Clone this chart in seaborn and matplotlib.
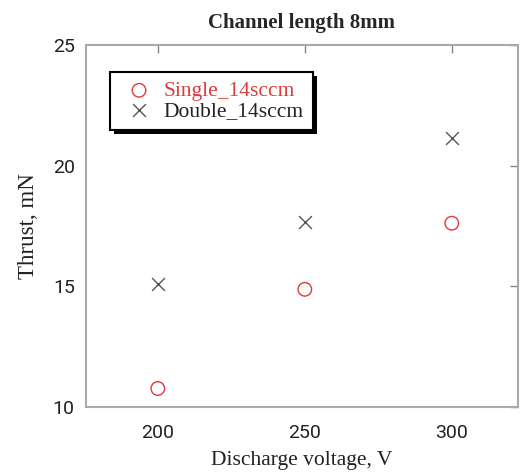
import matplotlib
matplotlib.use("Agg")
import matplotlib.pyplot as plt
import matplotlib.patheffects as pe
import seaborn as sns
import pandas as pd

voltage = [200, 250, 300]
single_14sccm = [10.77, 14.88, 17.62]
double_14sccm = [15.11, 17.66, 21.16]
x_ticks = [200, 250, 300]
y_ticks = [10, 15, 20, 25]
title = "Channel length 8mm"
xlabel = "Discharge voltage, V"
ylabel = "Thrust, mN"
series_names = ["Single_14sccm", "Double_14sccm"]

sns.set_style("white")
plt.rcParams['font.family'] = ['Liberation Sans Narrow', 'Roboto', 'DejaVu Sans']

fig = plt.figure(figsize=(5.2, 4.75), dpi=100)
ax = fig.add_axes([0.165, 0.143, 0.831, 0.762])

df_s = pd.DataFrame({"V": voltage, "T": single_14sccm})
df_d = pd.DataFrame({"V": voltage, "T": double_14sccm})

red = "#e03a3a"
gray = "#555555"
sns.scatterplot(data=df_s, x="V", y="T", marker="o", s=95, facecolors="none",
                edgecolors=red, linewidths=1.0, ax=ax, label=series_names[0], zorder=3)
sns.scatterplot(data=df_d, x="V", y="T", marker="x", s=85, color=gray,
                linewidths=1.0, ax=ax, label=series_names[1], zorder=3)

ax.set_xlim(175.5, 322.5)
ax.set_ylim(10, 25)
ax.set_xticks(x_ticks)
ax.set_yticks(y_ticks)
ax.tick_params(direction="in", length=6, width=1, color="#888888",
               labelsize=14, labelcolor="#222222", top=True, right=True,
               labeltop=False, labelright=False, pad=8)
ax.tick_params(axis="x", pad=12)
for sp in ax.spines.values():
    sp.set_color("#aaaaaa")
    sp.set_linewidth(1.5)
    sp.set_visible(True)

ax.set_xlabel(xlabel, family="Liberation Serif", fontsize=15.5, color="#222222", labelpad=7)
ax.set_ylabel(ylabel, family="Liberation Serif", fontsize=16.5, color="#222222", labelpad=10)
ax.set_title(title, family="Liberation Serif", fontweight="bold", fontsize=15, pad=12)

leg = ax.legend(loc="upper left", bbox_to_anchor=(0.056, 0.925), frameon=True,
                fancybox=False, shadow=False, framealpha=1.0,
                prop={"family": "Liberation Serif", "size": 15.5},
                handletextpad=0.2, handlelength=1.9, borderpad=0.4,
                labelspacing=0.0, borderaxespad=0)
frame = leg.get_frame()
frame.set_facecolor("white")
frame.set_edgecolor("black")
frame.set_linewidth(1.5)
frame.set_path_effects([pe.SimplePatchShadow(offset=(3, -3), shadow_rgbFace="black", alpha=1.0),
                        pe.Normal()])
for t, c in zip(leg.get_texts(), [red, "#222222"]):
    t.set_color(c)

fig.savefig("out.png", dpi=100)
